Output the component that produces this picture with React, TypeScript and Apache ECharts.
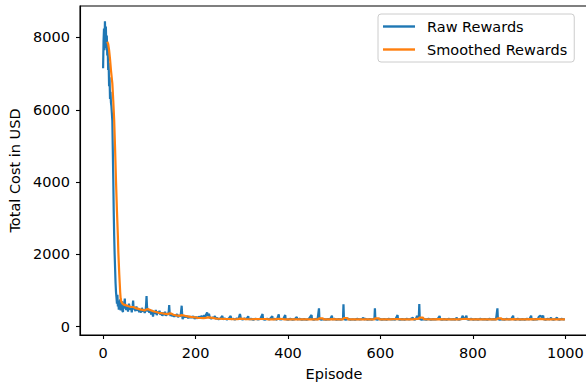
import React, { useEffect, useRef } from "react";
import * as echarts from "echarts";

const seriesNames = ["Raw Rewards", "Smoothed Rewards"];
const xTicks = [0, 200, 400, 600, 800, 1000];
const yTicks = [0, 2000, 4000, 6000, 8000];

const rawPoints: [number, number][] = [
  [0, 7150], [1, 7900], [2, 8250], [3, 7650], [4, 8450], [5, 7850], [6, 8300], [7, 7700], [8, 8050], [9, 7500],
  [10, 7700], [11, 7100], [12, 7300], [13, 6650], [14, 6900], [15, 6300], [16, 6500], [17, 6200], [18, 6100], [19, 5900],
  [20, 5700], [21, 4900], [22, 4100], [23, 3200], [24, 2500], [25, 2000], [26, 1600], [27, 1200], [28, 950], [29, 800],
  [30, 640], [31, 880], [32, 560], [33, 720], [34, 470], [35, 690], [36, 520], [37, 760], [38, 450], [39, 640],
  [40, 560], [41, 700], [42, 430], [43, 410], [44, 620], [45, 520], [46, 650], [47, 780], [48, 500], [49, 600],
  [50, 460], [52, 580], [54, 420], [56, 640], [58, 470], [60, 560], [62, 400], [64, 580], [65, 720], [66, 480],
  [68, 520], [70, 430], [72, 560], [74, 450], [76, 500], [78, 400], [80, 480], [82, 390], [84, 520], [86, 420],
  [88, 470], [90, 380], [92, 450], [93, 600], [94, 850], [95, 560], [96, 420], [98, 480], [100, 390], [102, 450],
  [104, 340], [106, 460], [108, 280], [110, 430], [112, 360], [114, 460], [116, 320], [118, 420], [120, 370], [122, 440],
  [124, 330], [126, 400], [128, 300], [130, 390], [132, 320], [134, 410], [136, 300], [138, 360], [140, 330], [142, 420],
  [143, 600], [144, 380], [146, 300], [148, 350], [150, 290], [152, 340], [154, 270], [156, 330], [158, 300], [160, 350],
  [162, 260], [164, 320], [166, 280], [168, 330], [170, 580], [171, 350], [172, 210], [174, 300], [176, 250], [178, 310],
  [180, 260], [182, 300], [184, 230], [186, 290], [188, 240], [190, 280], [192, 250], [195, 290], [198, 220], [201, 270],
  [204, 230], [207, 280], [210, 240], [213, 300], [216, 230], [219, 320], [221, 250], [223, 340], [225, 390], [227, 300],
  [229, 360], [231, 250], [234, 220], [238, 260], [240, 230], [242, 300], [243, 215], [246, 240], [250, 205], [254, 230],
  [258, 300], [259, 210], [263, 225], [268, 200], [272, 230], [276, 295], [277, 205], [281, 220], [285, 195], [289, 225],
  [293, 210], [296, 350], [297, 300], [298, 215], [302, 200], [306, 230], [310, 205], [314, 290], [315, 205], [320, 215],
  [325, 195], [330, 220], [335, 200], [340, 215], [345, 350], [346, 210], [350, 195], [355, 220], [360, 200], [366, 290],
  [367, 205], [372, 215], [376, 195], [380, 342], [381, 210], [385, 200], [390, 220], [394, 323], [395, 205], [400, 195],
  [405, 215], [410, 195], [415, 210], [419, 268], [420, 200], [425, 215], [430, 195], [435, 210], [440, 190], [445, 215],
  [451, 323], [452, 205], [456, 195], [460, 215], [464, 200], [467, 508], [468, 215], [472, 195], [477, 210], [482, 195],
  [487, 210], [491, 200], [495, 304], [496, 200], [500, 215], [505, 195], [510, 210], [515, 195], [519, 220], [520, 618],
  [521, 205], [525, 195], [530, 215], [535, 195], [540, 205], [545, 195], [550, 215], [555, 200], [560, 210], [563, 250],
  [564, 200], [568, 215], [572, 195], [577, 210], [582, 195], [587, 230], [588, 508], [589, 205], [593, 195], [598, 215],
  [603, 195], [608, 210], [613, 195], [618, 215], [623, 200], [628, 210], [632, 195], [637, 323], [638, 205], [642, 195],
  [647, 210], [652, 195], [657, 215], [662, 200], [666, 215], [670, 250], [671, 205], [675, 195], [678, 250], [679, 304],
  [680, 230], [683, 260], [684, 627], [685, 215], [689, 195], [694, 210], [699, 195], [704, 215], [709, 195], [714, 210],
  [719, 200], [724, 215], [728, 295], [729, 205], [733, 195], [738, 210], [743, 195], [748, 215], [753, 200], [758, 210],
  [762, 195], [765, 250], [766, 205], [770, 195], [775, 215], [778, 304], [779, 230], [782, 215], [786, 304], [787, 205],
  [791, 195], [796, 215], [801, 195], [806, 210], [811, 195], [816, 215], [821, 200], [826, 210], [831, 195], [836, 215],
  [841, 200], [846, 210], [850, 200], [853, 508], [854, 215], [858, 195], [863, 210], [868, 195], [873, 215], [878, 200],
  [883, 210], [887, 304], [888, 205], [892, 195], [897, 215], [902, 195], [907, 210], [912, 195], [917, 215], [922, 200],
  [926, 304], [927, 205], [931, 195], [936, 210], [940, 200], [943, 280], [946, 304], [949, 260], [952, 304], [953, 205],
  [957, 195], [962, 215], [966, 200], [969, 250], [970, 205], [974, 195], [978, 210], [982, 250], [983, 205], [987, 195],
  [992, 215], [996, 200], [999, 205],
];

const smoothedPoints: [number, number][] = [
  [9, 7880], [11, 7820], [13, 7650], [15, 7400], [17, 7100], [19, 6850], [20, 6730], [22, 6250], [24, 5710], [26, 4900],
  [28, 4000], [30, 3200], [32, 2500], [33, 2050], [34, 1750], [35, 1450], [36, 1200], [37, 950], [38, 780], [39, 710],
  [40, 680], [42, 640], [45, 610], [50, 590], [55, 565], [60, 545], [65, 545], [70, 515], [75, 500], [80, 480],
  [85, 465], [90, 450], [94, 480], [98, 485], [103, 455], [110, 420], [115, 405], [120, 385], [125, 375], [130, 365],
  [135, 355], [140, 345], [143, 370], [148, 360], [152, 330], [158, 315], [165, 300], [170, 320], [175, 310], [180, 290],
  [185, 280], [190, 270], [195, 262], [200, 255], [205, 245], [210, 240], [217, 235], [222, 245], [228, 258], [233, 250],
  [240, 235], [245, 225], [250, 220], [260, 215], [270, 212], [281, 207], [290, 206], [296, 222], [304, 218], [308, 208],
  [320, 205], [345, 212], [353, 212], [357, 204], [370, 204], [380, 214], [388, 212], [392, 204], [410, 202], [420, 204],
  [440, 200], [450, 204], [466, 202], [467, 232], [475, 232], [477, 204], [490, 200], [495, 210], [505, 200], [519, 202],
  [520, 240], [528, 240], [530, 204], [545, 200], [560, 202], [570, 200], [587, 202], [588, 232], [596, 232], [598, 202],
  [620, 200], [637, 212], [646, 200], [670, 204], [679, 214], [683, 218], [684, 250], [692, 250], [694, 206], [710, 200],
  [728, 208], [737, 200], [760, 200], [770, 204], [778, 212], [786, 214], [795, 202], [820, 200], [840, 200], [852, 202],
  [853, 232], [861, 232], [863, 202], [875, 200], [887, 210], [896, 200], [910, 200], [926, 210], [935, 202], [946, 215],
  [955, 204], [970, 204], [982, 206], [990, 200], [999, 200],
];

const FONT = "DejaVu Sans";
const FS = 14.5;

export default function App() {
  const ref = useRef<HTMLDivElement>(null);
  useEffect(() => {
    if (!ref.current) return;
    const chart = echarts.init(ref.current, null, { renderer: "svg" });
    chart.setOption({
      animation: false,
      backgroundColor: "#ffffff",
      textStyle: { fontFamily: FONT },
      grid: {
        left: 80,
        top: 6,
        width: 508,
        height: 329,
        containLabel: false,
        outerBoundsMode: "none",
        show: true,
        borderColor: "#000000",
        borderWidth: 1.1,
        backgroundColor: "transparent",
      },
      legend: {
        left: 378,
        top: 14,
        orient: "vertical",
        itemWidth: 32,
        itemHeight: 2.4,
        itemGap: 8,
        padding: [5, 7, 5, 5],
        borderColor: "#cccccc",
        borderWidth: 1,
        borderRadius: 3,
        backgroundColor: "rgba(255,255,255,0.8)",
        icon: "rect",
        textStyle: { fontFamily: FONT, fontSize: FS, color: "#000000", padding: [0, 0, 0, 7], lineHeight: 15 },
        data: seriesNames,
      },
      xAxis: {
        type: "value",
        min: -49.95,
        max: 1048.95,
        name: "Episode",
        nameLocation: "middle",
        nameGap: 31,
        nameTextStyle: { fontFamily: FONT, fontSize: FS, color: "#000000" },
        splitLine: { show: false },
        axisLine: { show: true, onZero: false, lineStyle: { color: "#000000", width: 1.1 } },
        axisTick: { show: true, length: 4, customValues: xTicks, lineStyle: { color: "#000000", width: 1.1 } },
        axisLabel: {
          customValues: xTicks,
          formatter: (v: number) => String(v),
          margin: 10,
          fontFamily: FONT,
          fontSize: FS,
          color: "#000000",
        },
      },
      yAxis: {
        type: "value",
        min: -230,
        max: 8870,
        name: "Total Cost in USD",
        nameLocation: "middle",
        nameGap: 55,
        nameTextStyle: { fontFamily: FONT, fontSize: FS, color: "#000000" },
        splitLine: { show: false },
        axisLine: { show: true, onZero: false, lineStyle: { color: "#000000", width: 1.1 } },
        axisTick: { show: true, length: 4, customValues: yTicks, lineStyle: { color: "#000000", width: 1.1 } },
        axisLabel: {
          customValues: yTicks,
          formatter: (v: number) => String(v),
          margin: 10,
          fontFamily: FONT,
          fontSize: FS,
          color: "#000000",
        },
      },
      series: [
        {
          name: seriesNames[0],
          type: "line",
          data: rawPoints,
          showSymbol: false,
          symbol: "none",
          color: "#1f77b4",
          lineStyle: { color: "#1f77b4", width: 2.2 },
          z: 2,
        },
        {
          name: seriesNames[1],
          type: "line",
          data: smoothedPoints,
          showSymbol: false,
          symbol: "none",
          color: "#ff7f0e",
          lineStyle: { color: "#ff7f0e", width: 2.2 },
          z: 3,
        },
      ],
    });
    return () => chart.dispose();
  }, []);
  return (
    <div
      ref={ref}
      style={{ position: "fixed", left: 0, top: 0, width: 586, height: 383 }}
    />
  );
}
